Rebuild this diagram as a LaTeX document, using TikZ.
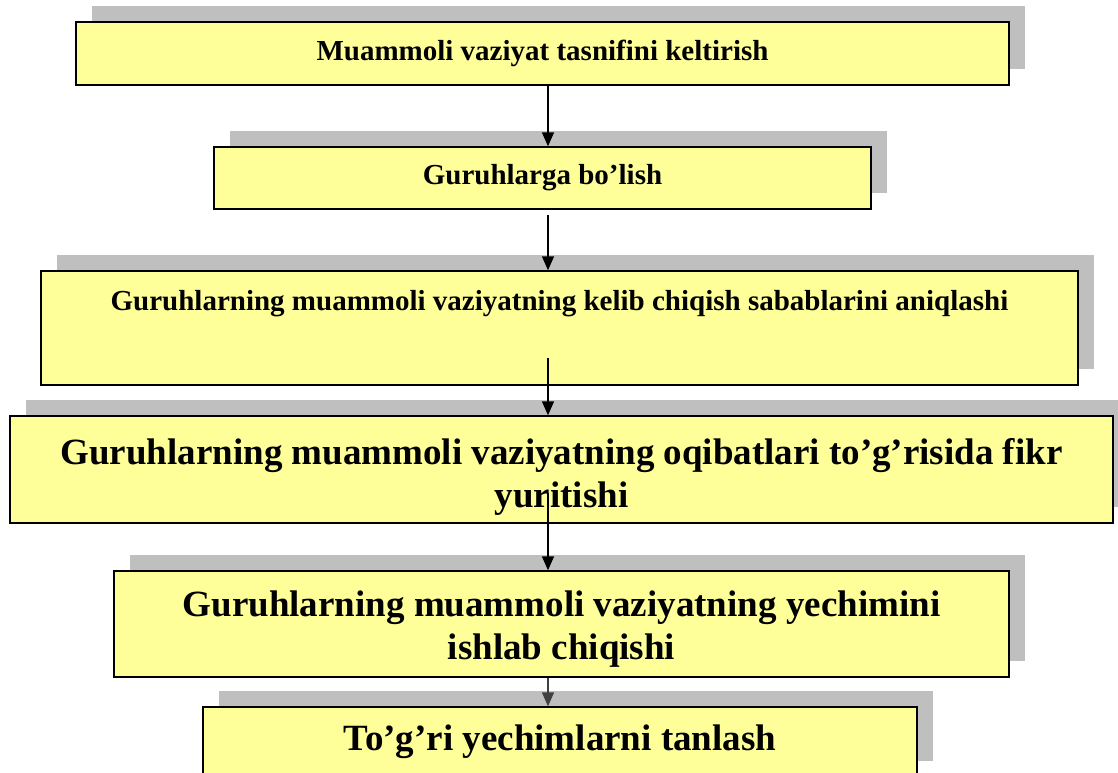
\documentclass[tikz,border=0pt]{standalone}
\usepackage{fontspec}
\setmainfont{Liberation Serif}
\usetikzlibrary{arrows.meta,shadows}
\definecolor{boxyellow}{HTML}{FFFF99}
\definecolor{shadowgray}{HTML}{BFBFBF}
\definecolor{arrowdark}{HTML}{404040}
\tikzset{
  stepbox/.style={draw=black, line width=1.1pt, fill=boxyellow, inner sep=0pt, align=center,
    general shadow={fill=shadowgray, shadow xshift=12pt, shadow yshift=12pt}},
  smalltext/.style={font=\fontsize{21.75}{25}\selectfont\bfseries},
  bigtext/.style={font=\fontsize{27.75}{32.25}\selectfont\bfseries},
  smallline/.style={text height=15.2pt, text depth=5.4pt},
  bigline/.style={text height=19.4pt, text depth=6.9pt},
  flowarrow/.style={draw=black, line width=1.1pt, -{Triangle[width=9pt,length=10.5pt]}},
}
\begin{document}
\begin{tikzpicture}[x=0.75pt,y=-0.75pt]
\useasboundingbox (0,0) rectangle (1118,772);
\clip (0,0) rectangle (1118,772);

\node[stepbox,smalltext,smallline,minimum width=699.75pt,minimum height=47.25pt] (b1) at (542.5,53.5)
  {Muammoli vaziyat tasnifini keltirish};
\node[stepbox,smalltext,smallline,minimum width=492.75pt,minimum height=46.5pt] (b2) at (542.5,178)
  {Guruhlarga bo’lish};
\node[stepbox,smalltext,text height=15pt,text depth=42pt,minimum width=777.75pt,minimum height=85.5pt] (b3) at (559.5,328)
  {Guruhlarning muammoli vaziyatning kelib chiqish sabablarini aniqlashi};
\node[stepbox,bigtext,minimum width=827.25pt,minimum height=80.25pt] (b4) at (561.5,469.5)
  {\rule{0pt}{30pt}Guruhlarning muammoli vaziyatning oqibatlari to’g’risida fikr\\yuritishi};
\node[stepbox,bigtext,minimum width=671.25pt,minimum height=79.5pt] (b5) at (561.5,624)
  {\rule{0pt}{27pt}Guruhlarning muammoli vaziyatning yechimini\\ishlab chiqishi};
\node[stepbox,bigtext,bigline,minimum width=535.5pt,minimum height=52.5pt] (b6) at (560,742)
  {To’g’ri yechimlarni tanlash};

\coordinate (ax) at (548,0);
\coordinate (s3) at (548,358);
\coordinate (s4) at (548,493);

\draw[flowarrow] (b1.south -| ax) -- (b2.north -| ax);
\draw[flowarrow, shorten <=3.75pt] (b2.south -| ax) -- (b3.north -| ax);
\draw[flowarrow] (s3) -- (b4.north -| s3);
\draw[flowarrow] (s4) -- (b5.north -| s4);
\draw[flowarrow, draw=arrowdark, fill=arrowdark] (b5.south -| ax) -- (b6.north -| ax);
\end{tikzpicture}
\end{document}
